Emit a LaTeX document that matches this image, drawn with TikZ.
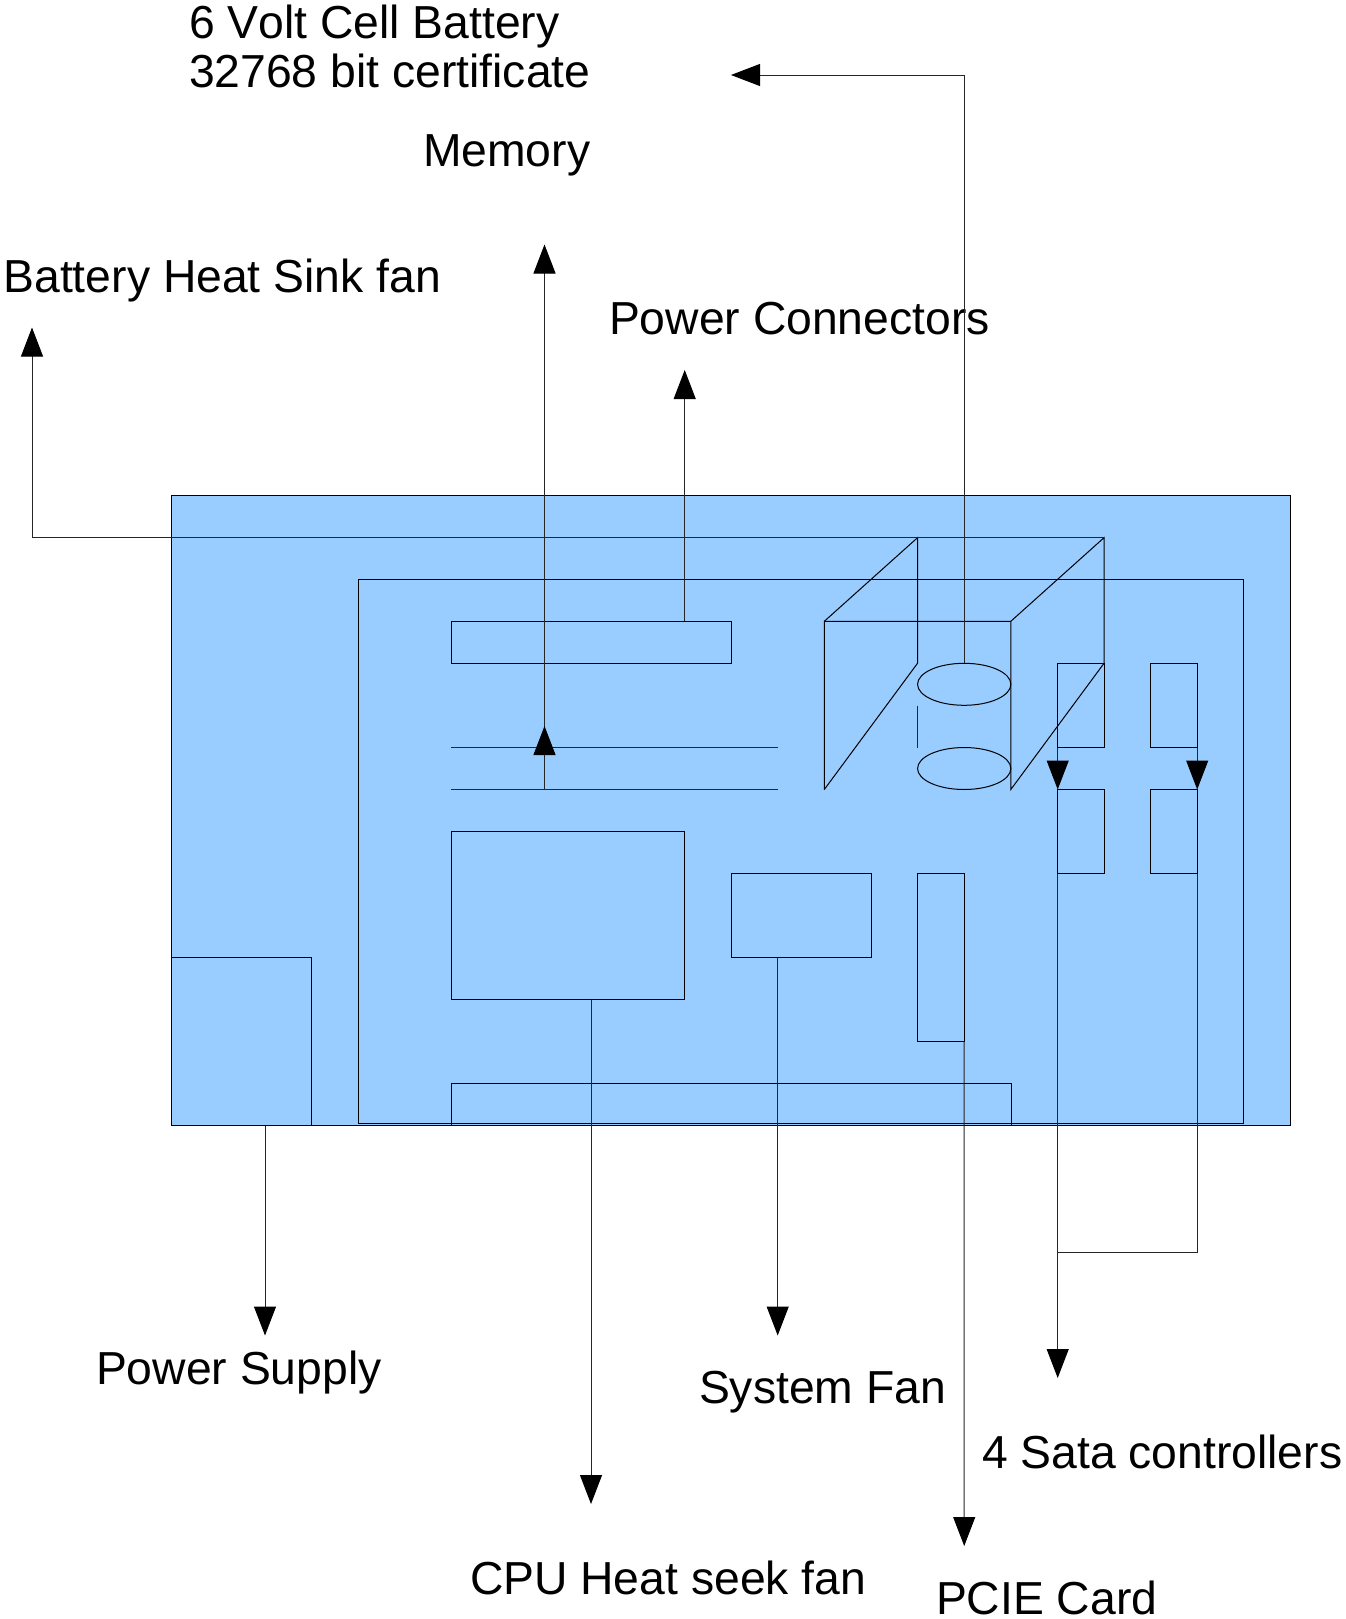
\documentclass[tikz,border=0pt]{standalone}
\usepackage{fontspec}
\setmainfont[Kerning=Off,Ligatures=NoCommon]{Liberation Sans}
\usetikzlibrary{arrows.meta,shapes.geometric}
\definecolor{boardblue}{HTML}{99CCFF}
\tikzset{
  part/.style={draw=black,line width=1pt,inner sep=0pt,outer sep=0pt},
  board/.style={part,fill=boardblue},
  wire/.style={draw=black!85,line width=1pt},
  flow/.style={wire,-{Triangle[length=29pt,width=22pt,black]}},
  label/.style={anchor=base west,inner sep=0pt,outer sep=0pt,align=left,font=\fontsize{46.3}{49}\selectfont},
}
\newcommand{\placebox}[6][part]{%
  \pgfmathsetmacro\bw{#5-#3}\pgfmathsetmacro\bh{#6-#4}%
  \node[#1,minimum width=\bw pt,minimum height=\bh pt] (#2) at ({(#3+#5)/2},{(#4+#6)/2}) {};}
\begin{document}
\begin{tikzpicture}[x=1pt,y=-1pt]
\useasboundingbox (0,0) rectangle (1345,1619);
% boards
\placebox[board]{case}{171.5}{495.5}{1290.5}{1125.7}
\placebox{mobo}{358}{579.7}{1243.7}{1123.3}
\placebox{psu}{171.5}{957.7}{311.5}{1125.7}
\placebox{powerconn}{451}{621.3}{731.3}{663.3}
\placebox{cpu}{451}{831.3}{684.7}{999.7}
\placebox{sysfan}{731.3}{873.5}{871}{957.7}
\placebox{pcie}{917.5}{873.5}{964.2}{1041.7}
\placebox{bar}{451}{1083.7}{1011}{1125.7}
\placebox{sataA}{1057.7}{663.3}{1104}{747.5}
\placebox{sataB}{1150.5}{663.3}{1197.2}{747.5}
\placebox{sataC}{1057.7}{789.5}{1104}{873.5}
\placebox{sataD}{1150.5}{789.5}{1197.2}{873.5}
% memory slots
\coordinate (memAL) at (451,747.5); \coordinate (memAR) at (777.7,747.5);
\coordinate (memBL) at (451,789.5); \coordinate (memBR) at (777.7,789.5);
\draw[wire] (memAL) -- (memAR);
\draw[wire] (memBL) -- (memBR);
% cube
\coordinate (ftl) at (824.3,621.3); \coordinate (ftr) at (1010.8,621.3);
\coordinate (fbl) at (824.3,789.5); \coordinate (fbr) at (1010.8,789.5);
\coordinate (btl) at (917.5,537.7); \coordinate (btr) at (1104,537.7);
\coordinate (bbl) at (917.5,663.3); \coordinate (bbr) at (1104,663.3);
\draw[part] (fbl) -- (ftl) -- (ftr) -- (fbr) -- (bbr) -- (btr) -- (ftr);
\draw[part] (ftl) -- (btl) -- (bbl) -- (fbl);
% battery cell
\node[part,ellipse,minimum width=93.3pt,minimum height=42pt] (cellT) at (964.2,684.3) {};
\node[part,ellipse,minimum width=93.3pt,minimum height=42pt] (cellB) at (964.2,768.5) {};
\coordinate (stubA) at (917.5,705.5); \coordinate (stubB) at (917.5,747.5);
\draw[wire] (stubA) -- (stubB);
% labels
\node[label] (lblBattery) at (189,87.5) {6 Volt Cell Battery\\32768 bit certificate};
\node[label] (lblMemory) at (423,166) {Memory};
\node[label] (lblHeat) at (3.5,292) {Battery Heat Sink fan};
\node[label] (lblPower) at (609,334.5) {Power Connectors};
\node[label] (lblPsu) at (96,1384) {Power Supply};
\node[label] (lblFan) at (699,1403) {System Fan};
\node[label] (lblSata) at (982,1468) {4 Sata controllers};
\node[label] (lblCpu) at (470,1594) {CPU Heat seek fan};
\node[label] (lblPcie) at (936,1614) {PCIE Card};
% connector ends
\coordinate (tipBattery) at (731,75);
\coordinate (tipMemory) at (544.5,244.5);
\coordinate (tipHeat) at (32,327.5);
\coordinate (tipPower) at (684.7,370);
\coordinate (tipPsu) at (265,1335.5);
\coordinate (tipCpu) at (591,1504);
\coordinate (tipFan) at (777.7,1335.5);
\coordinate (tipPcie) at (964.2,1546);
\coordinate (tipSata) at (1057.7,1378);
\coordinate (tipMid) at (544.5,726);
\coordinate (joinSata) at (1057.7,1252);
% connectors
\draw[flow] (cellT.north) |- (tipBattery);
\draw[flow] (memBR -| tipMemory) -- (tipMemory);
\draw[flow] (memBR -| tipMid) -- (tipMid);
\draw[flow] (btr) -| (tipHeat);
\draw[flow] (powerconn.north -| tipPower) -- (tipPower);
\draw[flow] (psu.south -| tipPsu) -- (tipPsu);
\draw[flow] (cpu.south -| tipCpu) -- (tipCpu);
\draw[flow] (sysfan.south -| tipFan) -- (tipFan);
\draw[flow] (pcie.south east) -- (tipPcie);
\draw[flow] (sataA.south west) -- (sataC.north west);
\draw[flow] (sataB.south east) -- (sataD.north east);
\draw[flow] (sataC.south west) -- (tipSata);
\draw[wire] (sataD.south east) |- (joinSata);
\end{tikzpicture}
\end{document}
